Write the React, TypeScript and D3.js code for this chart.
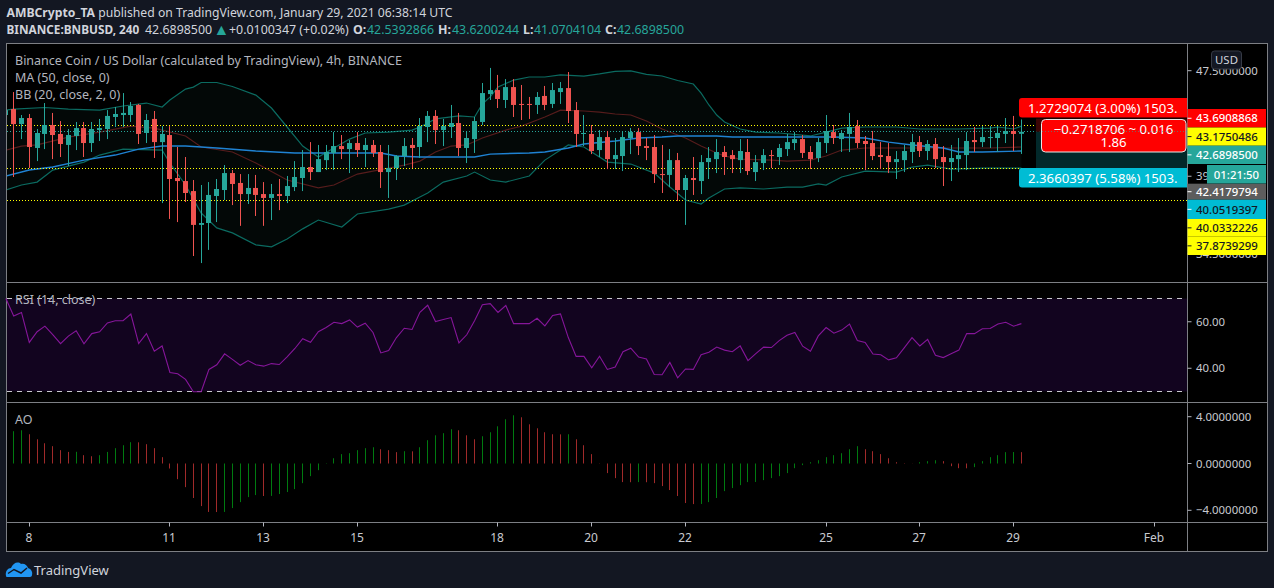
import * as d3 from "d3";

// candles, 4h, from Jan 7 12:00 UTC
const opens = [43.96,44.42,43.27,43.73,41.50,42.53,43.20,42.53,41.72,42.38,42.97,41.86,42.82,42.90,43.81,43.96,43.96,44.74,42.60,43.66,41.93,42.45,39.38,39.17,38.49,36.28,36.40,38.16,38.56,39.72,39.04,38.29,38.70,38.29,38.03,38.29,38.16,38.76,39.38,40.14,39.79,40.63,41.14,41.64,41.42,41.86,41.35,41.72,41.21,39.79,40.07,40.92,41.72,41.57,43.05,43.89,42.82,43.05,43.35,41.50,42.15,43.43,45.60,45.92,45.13,46.16,44.82,44.82,44.74,45.45,44.82,45.76,46.08,44.34,42.53,42.53,41.35,42.30,40.70,40.92,42.23,42.67,41.64,41.57,39.65,39.59,40.63,38.56,39.38,39.17,40.49,40.70,41.21,40.99,40.63,41.21,39.79,40.42,40.99,40.85,41.42,41.86,42.15,41.21,40.78,41.86,42.67,42.15,42.53,43.12,42.01,41.86,40.99,40.92,40.49,40.63,41.21,41.93,41.28,41.79,40.85,40.49,40.70,40.99,42.08,41.93,42.23,42.23,42.53,42.75,42.54];
const highs = [44.50,45.76,43.96,44.04,42.90,44.89,44.12,43.50,42.90,43.43,43.43,43.43,43.66,44.34,44.58,45.68,44.97,44.82,44.04,44.27,43.12,43.12,41.57,40.85,39.24,38.90,39.10,39.31,40.28,39.93,39.65,39.65,39.59,39.10,38.97,39.31,39.52,40.56,41.35,41.93,41.72,41.72,42.67,42.45,42.08,42.67,42.23,42.08,41.72,41.72,40.99,42.23,42.23,43.73,44.27,44.34,43.66,44.74,44.12,42.75,43.81,46.49,47.73,47.15,46.81,46.81,46.33,45.37,45.76,46.25,46.49,46.57,47.39,44.97,43.96,43.20,42.82,42.75,42.23,42.75,42.97,42.97,42.23,42.45,41.72,41.42,41.14,39.59,40.85,40.99,41.57,42.15,41.64,41.35,42.15,42.15,40.99,41.42,41.35,41.79,42.53,42.67,42.45,41.64,42.23,43.96,43.20,42.82,44.12,43.58,42.38,42.75,41.93,41.86,41.28,41.72,42.53,42.38,42.08,42.23,41.64,41.72,42.23,42.67,43.05,43.12,43.12,43.12,43.73,43.89,43.62];
const lows = [43.20,39.45,42.15,40.07,40.56,41.42,40.70,40.85,40.21,41.35,40.85,41.21,42.01,42.15,43.05,43.05,43.43,41.79,41.86,40.78,37.69,36.66,36.46,37.76,34.36,33.94,34.73,36.46,37.89,37.56,36.22,37.63,36.85,36.22,36.59,37.23,37.69,38.49,38.49,39.24,39.79,39.93,39.93,40.70,39.72,40.85,40.14,40.85,38.70,38.03,39.24,40.21,40.07,40.78,41.93,41.79,41.64,42.23,40.92,40.42,41.14,43.20,45.13,44.50,44.50,43.81,43.58,43.66,44.04,44.34,44.50,44.82,43.35,41.57,41.64,41.06,40.85,40.00,40.00,39.86,41.06,40.99,40.63,39.04,38.36,38.76,37.82,36.28,38.23,38.29,39.31,39.72,39.59,39.72,39.72,39.59,39.17,39.93,40.07,40.28,40.92,41.35,40.78,40.00,40.49,41.14,41.79,41.21,41.21,41.50,39.93,40.63,40.00,39.72,39.31,39.79,40.42,40.85,40.63,40.07,38.83,39.17,39.79,39.93,41.21,41.57,41.50,41.21,41.86,41.28,41.07];
const closes = [44.34,43.27,43.73,41.57,42.60,43.20,42.45,41.79,42.45,42.97,41.86,42.90,42.97,43.89,44.04,44.12,44.66,42.53,43.58,41.93,42.53,39.31,39.17,38.36,36.28,36.40,38.23,38.63,39.72,38.97,38.29,38.70,38.23,38.03,38.29,38.16,38.83,39.45,40.14,39.79,40.70,41.21,41.64,41.42,41.86,41.35,41.72,41.14,39.79,40.07,40.92,41.64,41.50,43.12,43.89,42.82,43.12,43.35,41.50,42.23,43.50,45.68,45.92,45.21,46.16,44.74,44.74,44.74,45.37,44.74,45.92,46.08,44.27,42.53,42.60,41.28,42.30,40.70,40.99,42.30,42.67,41.64,41.50,39.65,39.59,40.63,38.56,39.38,39.24,40.49,40.78,41.21,40.85,40.70,41.28,39.86,40.49,40.99,40.92,41.50,41.93,42.15,41.14,40.70,41.93,42.75,42.23,42.60,43.05,41.86,41.79,40.92,40.85,40.49,40.70,41.28,41.93,41.28,41.79,40.70,40.49,40.78,40.99,42.01,41.93,42.30,42.30,42.60,42.75,42.53,42.69];

// indicator lines, [candle index, price]
const bbUpper = [[0,44.34],[1,44.42],[5,44.54],[8,44.42],[12,44.34],[15,44.66],[18,44.89],[20,44.58],[21,45.13],[23,46.00],[24,46.16],[25,46.53],[27,46.53],[29,46.21],[32,45.52],[34,44.50],[36,43.05],[38,41.64],[40,40.85],[42,41.50],[44,42.15],[46,42.60],[49,42.67],[52,42.82],[53,43.05],[54,43.35],[55,43.66],[58,43.89],[60,43.81],[61,44.82],[62,45.37],[63,46.16],[65,46.73],[67,46.98],[69,46.98],[71,47.15],[74,47.06],[76,47.23],[78,47.44],[80,47.48],[82,47.19],[84,47.06],[86,46.69],[88,46.41],[89,45.68],[90,44.74],[91,43.96],[92,43.43],[94,42.90],[96,42.67],[99,42.60],[103,42.38],[105,42.67],[107,42.97],[110,43.05],[114,43.05],[117,42.90],[122,42.90],[126,42.97],[127,43.05],[129,42.90],[130,43.12]];
const bbBasis = [[0,41.35],[2,41.64],[4,41.72],[8,42.30],[12,42.67],[16,43.12],[19,42.97],[23,42.38],[25,41.57],[29,41.21],[32,40.42],[36,39.24],[40,38.70],[42,38.90],[45,39.65],[49,40.07],[51,40.28],[53,40.56],[55,41.21],[57,41.64],[59,41.72],[61,42.23],[64,42.82],[66,43.12],[69,43.81],[71,44.34],[74,44.27],[76,44.19],[78,44.04],[80,43.96],[82,43.50],[84,42.90],[87,42.23],[89,41.64],[91,41.14],[92,40.92],[94,40.70],[98,40.63],[100,40.56],[103,40.63],[105,40.92],[107,41.35],[110,41.50],[115,41.50],[120,41.50],[126,41.50],[130,41.57]];
const bbLower = [[0,38.56],[2,38.90],[4,39.10],[6,39.93],[8,40.21],[10,40.49],[12,40.99],[15,41.42],[20,41.35],[21,40.42],[23,38.90],[25,37.04],[27,36.09],[29,35.78],[32,35.04],[34,34.92],[36,35.40],[38,36.03],[40,36.59],[43,36.15],[45,36.98],[49,37.30],[51,37.56],[53,38.09],[54,38.36],[56,39.10],[59,39.52],[60,39.79],[62,39.24],[64,39.10],[67,39.52],[69,40.63],[72,41.72],[74,41.57],[77,40.49],[80,40.35],[83,39.72],[85,38.76],[87,37.89],[89,37.63],[90,38.03],[92,38.63],[94,38.70],[97,38.63],[100,38.76],[102,38.76],[104,38.97],[105,38.90],[107,39.45],[110,39.86],[114,39.79],[116,40.14],[118,40.28],[121,40.00],[125,40.07],[130,40.07]];
const ma50 = [[0,39.52],[3,39.93],[6,40.14],[10,40.63],[14,40.99],[17,41.42],[20,41.64],[23,41.64],[27,41.50],[32,41.28],[37,41.14],[42,41.14],[48,41.14],[50,40.92],[53,40.85],[56,40.85],[60,40.85],[62,41.06],[67,41.14],[69,41.21],[72,41.50],[74,41.79],[78,42.01],[81,42.23],[84,42.30],[86,42.38],[91,42.38],[93,42.30],[98,42.30],[102,42.30],[106,42.30],[110,42.23],[113,41.93],[116,41.72],[120,41.50],[122,41.21],[125,41.21],[130,41.28]];

const rsi = [70,62.5,64.0,51.1,55.7,58.1,54.5,50.6,53.8,56.1,50.5,54.9,55.7,59.5,60.4,60.5,63.3,50.6,54.9,47.3,49.6,38.2,37.6,35.2,29.9,29.9,39.5,41.5,46.2,43.8,41.3,43.3,41.5,40.9,42.0,41.6,44.9,48.5,52.7,51.2,55.7,57.5,59.8,59.2,60.8,57.7,59.4,55.4,46.6,47.6,53.2,57.2,56.7,64.1,67.1,60.1,61.0,61.8,50.9,54.4,60.4,67.3,67.8,64.0,67.0,59.2,59.2,59.2,61.5,58.2,62.7,63.4,53.2,45.1,45.1,40.2,45.2,39.5,40.5,47.1,48.6,44.8,44.0,37.3,37.2,42.5,35.9,39.7,39.5,45.8,46.9,49.1,47.8,47.1,49.6,43.3,46.3,49.1,48.9,51.9,54.2,55.4,49.5,47.3,53.9,57.5,55.1,56.4,59.0,51.9,51.1,46.1,45.8,43.6,44.5,48.8,53.2,49.6,52.4,45.6,44.6,46.2,47.8,54.9,54.9,57.0,57.1,59.0,59.8,58.1,59.2];

// awesome oscillator, starts at candle 1
const ao = [2.76,2.84,2.50,2.07,1.73,1.48,1.14,0.99,1.00,0.71,0.62,0.71,0.99,1.31,1.56,1.82,1.81,1.65,1.31,0.54,-0.43,-1.34,-2.02,-2.95,-3.64,-4.14,-4.15,-4.14,-3.81,-3.30,-2.87,-2.70,-2.78,-2.77,-2.61,-2.44,-2.19,-1.68,-1.08,-0.57,-0.03,0.45,0.80,0.88,1.14,1.31,1.39,1.22,1.14,0.97,1.05,1.04,1.39,1.99,2.41,2.59,2.93,2.84,2.41,2.07,2.33,2.67,3.18,3.78,4.12,3.95,3.35,3.01,2.67,2.50,2.49,2.50,2.07,1.56,0.80,-0.02,-0.82,-1.25,-1.59,-1.60,-1.59,-1.60,-1.68,-1.93,-2.27,-2.78,-3.38,-3.47,-3.46,-3.30,-2.95,-2.36,-2.10,-1.85,-1.59,-1.58,-1.42,-1.25,-1.08,-0.82,-0.40,-0.14,0.11,0.28,0.54,0.71,0.88,1.22,1.48,1.22,1.05,0.80,0.45,0.11,0.03,0.01,0.11,0.20,0.28,0.20,-0.23,-0.40,-0.41,-0.31,0.20,0.54,0.71,0.97,0.98,0.97];

const dottedLevels = [43.1750486, 40.0332226, 37.8739299];
const closeLevel = 42.68985;
const timeTicks = [[2021,0,8,"8"],[2021,0,11,"11"],[2021,0,13,"13"],[2021,0,15,"15"],[2021,0,18,"18"],[2021,0,20,"20"],[2021,0,22,"22"],[2021,0,25,"25"],[2021,0,27,"27"],[2021,0,29,"29"],[2021,1,1,"Feb"]];
const priceTicks = [47.5, 39.5, 34.5];
const rsiTicks = [60, 40];
const aoTicks = [4, 0, -4];
const priceTags = ["43.6908868","43.1750486","42.6898500","42.4179794","40.0519397","40.0332226","37.8739299"];
const tagFill = ["#ff0000","#ffff00","#26a69a","#5d5d5d","#00bcd4","#ffff00","#ffff00"];
const tagText = ["#ffffff","#131722","#ffffff","#ffffff","#131722","#131722","#131722"];
const tagTop = [109, 127.5, 145.7, 183.7, 199.7, 219, 236.7];
const tagBottom = [127.5, 145.7, 164, 199.7, 219, 236.7, 255];

const W = 1274;
const H = 588;
const left = 7;
const axisX = 1187.5;
const frameR = 1267.5;
const top = 43.5;
const mainBottom = 282.5;
const rsiBottom = 402.5;
const aoBottom = 522.5;
const frameBottom = 551.5;

const UP = "#26a69a";
const DOWN = "#ef5350";
const TXT = "#b2b5be";
const FRAME = "#7d7f84";
const FONT = "'Noto Sans', sans-serif";

const hour4 = 4 * 3600 * 1000;
const t0 = Date.UTC(2021, 0, 7, 12);
const timeOf = (i: number) => new Date(t0 + i * hour4);

const x = d3.scaleUtc()
  .domain([new Date(Date.UTC(2021, 0, 8)), new Date(Date.UTC(2021, 1, 1))])
  .range([29.3, 29.3 + 24 * 46.87]);
const y = d3.scaleLog().domain([47.5, 34.5]).range([70.7, 253.7]);
const yRsi = d3.scaleLinear().domain([70, 30]).range([298.5, 391.5]);
const yAo = d3.scaleLinear().domain([4, -4]).range([416.7, 510.3]);

const xAt = (i: number) => Math.floor(x(timeOf(i))) + 0.5;

const priceLine = d3.line<number[]>().x(d => x(timeOf(d[0]))).y(d => y(d[1]));
const rsiLine = d3.line<number>().x((_, i) => x(timeOf(i))).y(d => yRsi(d));

export default function App() {
  const band = priceLine([...bbUpper, ...[...bbLower].reverse()]) + "Z";

  return (
    <svg width={W} height={H} style={{ position: "absolute", left: 0, top: 0 }} fontFamily={FONT}>
      <defs>
        <clipPath id="plot"><rect x={left} y={top} width={axisX - left} height={mainBottom - top} /></clipPath>
        <clipPath id="tagclip"><rect x={1010} y={90} width={axisX - 1010} height={110} /></clipPath>
      </defs>
      <rect width={W} height={H} fill="#131722" />
      <rect x={6.5} y={top} width={frameR - 6.5} height={frameBottom - top} fill="#000" stroke={FRAME} />

      {/* header */}
      <text x={6.5} y={17} fontSize={12.2} fill="#d1d4dc">
        <tspan fontWeight={700}>AMBCrypto_TA</tspan> published on TradingView.com, January 29, 2021 06:38:14 UTC
      </text>
      <g fontSize={12.4} fill="#d1d4dc">
        <text x={6.5} y={34} fontSize={11.8} fontWeight={700}>BINANCE:BNBUSD, 240</text>
        <text x={145} y={34}>42.6898500</text>
        <text x={213.5} y={35} fontSize={16} fill={UP}>▲</text>
        <text x={229} y={34}>+0.0100347 (+0.02%)</text>
        <text x={353} y={34} fontWeight={700}>O:</text>
        <text x={367} y={34} fill={UP}>42.5392866</text>
        <text x={438} y={34} fontWeight={700}>H:</text>
        <text x={452} y={34} fill={UP}>43.6200244</text>
        <text x={523} y={34} fontWeight={700}>L:</text>
        <text x={534} y={34} fill={UP}>41.0704104</text>
        <text x={605} y={34} fontWeight={700}>C:</text>
        <text x={617} y={34} fill={UP}>42.6898500</text>
      </g>

      {/* main pane */}
      <g clipPath="url(#plot)">
        <path d={band} fill="#030807" />
        <path d={priceLine(bbBasis)!} fill="none" stroke="#561c1c" strokeWidth={1.2} />
        <path d={priceLine(bbUpper)!} fill="none" stroke="#0b6a60" strokeWidth={1.2} />
        <path d={priceLine(bbLower)!} fill="none" stroke="#0b6a60" strokeWidth={1.2} />
        <path d={priceLine(ma50)!} fill="none" stroke="#1f82d2" strokeWidth={1.4} />
        {dottedLevels.map(v => (
          <line key={v} x1={left} x2={axisX} y1={Math.floor(y(v)) + 0.5} y2={Math.floor(y(v)) + 0.5}
            stroke="#ffff00" strokeDasharray="1 2" shapeRendering="crispEdges" />
        ))}
        <line x1={left} x2={axisX} y1={Math.floor(y(closeLevel)) + 0.5} y2={Math.floor(y(closeLevel)) + 0.5}
          stroke={UP} strokeDasharray="1 2" shapeRendering="crispEdges" />
        {opens.map((o, i) => {
          const c = closes[i];
          const color = c >= o ? UP : DOWN;
          const cx = xAt(i);
          return (
            <g key={i}>
              <line x1={cx} x2={cx} y1={y(highs[i])} y2={y(lows[i])} stroke={color} />
              <rect x={cx - 2.5} width={5} y={y(Math.max(o, c))}
                height={Math.max(1, Math.abs(y(o) - y(c)))} fill={color} />
            </g>
          );
        })}
        {/* position zones */}
        <rect x={1036} y={y(43.6908868)} width={axisX - 1036} height={y(closeLevel) - y(43.6908868)} fill="#3a0404" />
        <rect x={1036} y={y(closeLevel)} width={axisX - 1036} height={y(40.0332226) - y(closeLevel)} fill="#02282a" />
      </g>

      <g fontSize={12.5} fill={TXT}>
        <text x={15} y={64.5}>Binance Coin / US Dollar (calculated by TradingView), 4h, BINANCE</text>
        <text x={15} y={81.5}>MA (50, close, 0)</text>
        <text x={15} y={98.5}>BB (20, close, 2, 0)</text>
      </g>

      {/* position labels */}
      <g clipPath="url(#tagclip)" fontSize={13.2} fill="#fff">
        <rect x={1019} y={98} width={190} height={19.5} rx={3} fill="#ff0000" />
        <text x={1028} y={112.5}>1.2729074 (3.00%) 1503.</text>
        <rect x={1019} y={168} width={190} height={19.5} rx={3} fill="#00bcd4" />
        <text x={1028} y={182.5}>2.3660397 (5.58%) 1503.</text>
      </g>
      <rect x={1041.5} y={119.5} width={144.5} height={32.5} rx={4} fill="#ff0000" stroke="#e8e8e8" />
      <g fontSize={13.2} fill="#fff" textAnchor="middle">
        <text x={1113.5} y={134}>−0.2718706 ~ 0.016</text>
        <text x={1113.5} y={146.5}>1.86</text>
      </g>
      <line x1={1042} x2={axisX} y1={Math.floor(y(closeLevel)) + 0.5} y2={Math.floor(y(closeLevel)) + 0.5}
        stroke={UP} strokeOpacity={0.6} strokeDasharray="1 2" shapeRendering="crispEdges" />

      {/* rsi pane */}
      <rect x={left} y={yRsi(70)} width={axisX - left} height={yRsi(30) - yRsi(70)} fill="#12041f" />
      <line x1={left} x2={axisX} y1={yRsi(70)} y2={yRsi(70)} stroke="#c8c8cc" strokeDasharray="5 5" />
      <line x1={left} x2={axisX} y1={yRsi(30)} y2={yRsi(30)} stroke="#c8c8cc" strokeDasharray="5 5" />
      <path d={rsiLine(rsi)!} fill="none" stroke="#86169a" strokeWidth={1.1} />
      <text x={15} y={304} fontSize={12.5} fill={TXT}>RSI (14, close)</text>

      {/* ao pane */}
      {ao.map((v, k) => {
        const i = k + 1;
        const rising = k === 0 || v >= ao[k - 1];
        const cx = xAt(i);
        return <line key={i} x1={cx} x2={cx} y1={yAo(0)} y2={yAo(v)} stroke={rising ? "#007a10" : "#a02a2a"} />;
      })}
      <text x={15} y={424} fontSize={12.5} fill={TXT}>AO</text>

      {/* pane separators and axes */}
      <g stroke={FRAME}>
        <line x1={6.5} x2={frameR} y1={mainBottom} y2={mainBottom} />
        <line x1={6.5} x2={frameR} y1={rsiBottom} y2={rsiBottom} />
        <line x1={6.5} x2={frameR} y1={aoBottom} y2={aoBottom} />
        <line x1={axisX} x2={axisX} y1={top} y2={frameBottom} />
      </g>

      <g fontSize={11.4} fill="#c8cad0">
        {priceTicks.map(v => (
          <g key={v}>
            <line x1={axisX} x2={axisX + 4} y1={y(v)} y2={y(v)} stroke={TXT} />
            <text x={1196} y={y(v) + 4}>{v.toFixed(7)}</text>
          </g>
        ))}
        {rsiTicks.map(v => (
          <g key={v}>
            <line x1={axisX} x2={axisX + 4} y1={yRsi(v)} y2={yRsi(v)} stroke={TXT} />
            <text x={1196} y={yRsi(v) + 4}>{v.toFixed(2)}</text>
          </g>
        ))}
        {aoTicks.map(v => (
          <g key={v}>
            <line x1={axisX} x2={axisX + 4} y1={yAo(v)} y2={yAo(v)} stroke={TXT} />
            <text x={1196} y={yAo(v) + 4}>{(v < 0 ? "−" : "") + Math.abs(v).toFixed(7)}</text>
          </g>
        ))}
        {timeTicks.map(t => {
          const tx = Math.floor(x(new Date(Date.UTC(t[0] as number, t[1] as number, t[2] as number)))) + 0.5;
          return (
            <g key={t[3] as string}>
              <line x1={tx} x2={tx} y1={aoBottom} y2={aoBottom + 4} stroke={TXT} />
              <text x={tx - 0.5} y={542} textAnchor="middle" fontSize={12}>{t[3]}</text>
            </g>
          );
        })}
      </g>

      {/* price tags */}
      {priceTags.map((p, i) => (
        <g key={p + i}>
          <rect x={axisX} y={tagTop[i]} width={1266 - axisX} height={tagBottom[i] - tagTop[i]} fill={tagFill[i]} />
          <line x1={axisX} x2={axisX + 4} y1={(tagTop[i] + tagBottom[i]) / 2} y2={(tagTop[i] + tagBottom[i]) / 2}
            stroke={tagFill[i] === "#ffff00" ? "#131722" : "#fff"} />
          <text x={1196} y={(tagTop[i] + tagBottom[i]) / 2 + 4.2} fontSize={11.4} fontWeight={500} fill={tagText[i]}>{p}</text>
        </g>
      ))}
      <rect x={1207} y={165} width={59} height={18.5} fill={UP} />
      <text x={1236.5} y={178.5} fontSize={11.4} fontWeight={500} fill="#fff" textAnchor="middle">01:21:50</text>

      <rect x={1211.5} y={51} width={30} height={18} rx={3} fill="#131722" stroke="#363a45" />
      <text x={1226.5} y={64} fontSize={11.4} fill="#d1d4dc" textAnchor="middle">USD</text>

      {/* logo */}
      <path d="M6 576 C5 571 8 568 11 568 C13 563 18 561 21 564 C24 563 27 565 28 568 C31 569 33 572 32 575 C32 576 31 577 30 577 L8 577 C7 577 6 577 6 576 Z" fill="#2196f3" />
      <path d="M8 573.5 L14 569.5 L21 573 L27 568" fill="none" stroke="#131722" strokeWidth={1.5} />
      <text x={34} y={574.5} fontSize={13} fill="#d1d4dc">TradingView</text>
    </svg>
  );
}
